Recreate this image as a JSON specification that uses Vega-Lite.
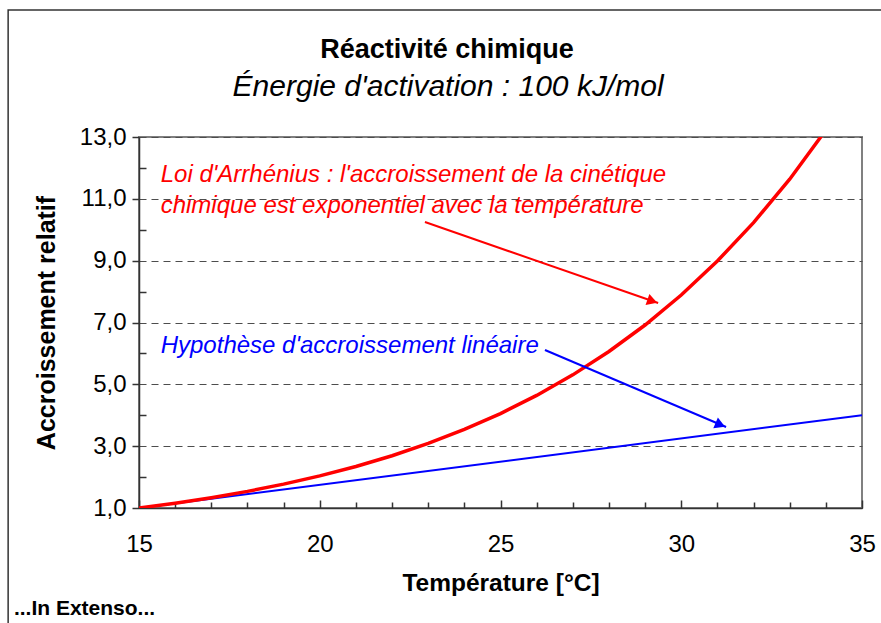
{
  "$schema": "https://vega.github.io/schema/vega-lite/v6.json",
  "width": 723,
  "height": 371,
  "autosize": {"type": "none"},
  "padding": {"left": 139, "top": 137, "right": 19, "bottom": 115},
  "background": "white",
  "config": {
    "view": {"stroke": "#808080", "strokeWidth": 2},
    "axis": {
      "labelFont": "Liberation Sans",
      "titleFont": "Liberation Sans",
      "labelColor": "black",
      "titleColor": "black",
      "domainColor": "#333333",
      "tickColor": "#333333",
      "domainWidth": 1.5,
      "tickWidth": 1.5
    }
  },
  "datasets": {
    "arrhenius": [
      {"t": 15, "v": 1.0},
      {"t": 16, "v": 1.155},
      {"t": 17, "v": 1.333},
      {"t": 18, "v": 1.537},
      {"t": 19, "v": 1.771},
      {"t": 20, "v": 2.038},
      {"t": 21, "v": 2.343},
      {"t": 22, "v": 2.691},
      {"t": 23, "v": 3.088},
      {"t": 24, "v": 3.54},
      {"t": 25, "v": 4.055},
      {"t": 26, "v": 4.641},
      {"t": 27, "v": 5.306},
      {"t": 28, "v": 6.061},
      {"t": 29, "v": 6.918},
      {"t": 30, "v": 7.889},
      {"t": 31, "v": 8.988},
      {"t": 32, "v": 10.232},
      {"t": 33, "v": 11.636},
      {"t": 34, "v": 13.225}
    ],
    "lineaire": [
      {"t": 15, "v": 1.0},
      {"t": 35, "v": 4.0}
    ],
    "titre": [
      {"label": "Réactivité chimique", "t": 23.52, "v": 15.555}
    ],
    "sousTitre": [
      {"label": "Énergie d'activation : 100 kJ/mol", "t": 23.55, "v": 14.33}
    ],
    "noteRouge": [
      {"label": "Loi d'Arrhénius : l'accroissement de la cinétique", "t": 15.6, "v": 11.55},
      {"label": "chimique est exponentiel avec la température", "t": 15.6, "v": 10.53}
    ],
    "noteBleue": [
      {"label": "Hypothèse d'accroissement linéaire", "t": 15.6, "v": 6.02}
    ],
    "flecheRouge": [
      {"t": 22.91, "v": 10.25, "t2": 29.36, "v2": 7.63}
    ],
    "flecheBleue": [
      {"t": 26.23, "v": 6.11, "t2": 31.24, "v2": 3.62}
    ],
    "pointeRouge": [{"t": 29.2, "v": 7.69}],
    "pointeBleue": [{"t": 31.08, "v": 3.69}],
    "pied": [{"label": "...In Extenso...", "t": 11.54, "v": -2.46}]
  },
  "resolve": {"axis": {"x": "independent", "y": "independent"}},
  "layer": [
    {
      "data": {"values": [{}]},
      "mark": {"type": "rect", "fill": null, "stroke": "#333333", "strokeWidth": 1.5, "clip": false},
      "encoding": {
        "x": {"datum": 11.38, "type": "quantitative", "scale": {"domain": [15, 35], "nice": false, "zero": false}, "axis": null},
        "x2": {"datum": 50},
        "y": {"datum": 17.11, "type": "quantitative", "scale": {"domain": [1, 13], "nice": false, "zero": false}, "axis": null},
        "y2": {"datum": -10}
      }
    },
    {
      "data": {"name": "lineaire"},
      "mark": {"type": "line", "color": "#0000ff", "strokeWidth": 2, "clip": true},
      "encoding": {
        "x": {
          "field": "t", "type": "quantitative",
          "scale": {"domain": [15, 35], "nice": false, "zero": false},
          "axis": {
            "orient": "bottom",
            "values": [16, 17, 18, 19, 21, 22, 23, 24, 26, 27, 28, 29, 31, 32, 33, 34],
            "labels": false, "domain": false, "grid": false,
            "tickSize": -6, "title": null
          }
        },
        "y": {
          "field": "v", "type": "quantitative",
          "scale": {"domain": [1, 13], "nice": false, "zero": false},
          "axis": {
            "orient": "left",
            "values": [2, 4, 6, 8, 10, 12],
            "labels": false, "domain": false, "grid": false,
            "tickSize": -7, "title": null
          }
        }
      }
    },
    {
      "data": {"name": "arrhenius"},
      "mark": {"type": "line", "color": "#ff0000", "strokeWidth": 3.5, "clip": true},
      "encoding": {
        "x": {
          "field": "t", "type": "quantitative",
          "scale": {"domain": [15, 35], "nice": false, "zero": false},
          "axis": {
            "orient": "bottom",
            "values": [15, 20, 25, 30, 35],
            "tickSize": -8,
            "labelPadding": 32,
            "labelFontSize": 24,
            "labelFlush": false,
            "grid": false,
            "title": "Température [°C]",
            "titleFontSize": 24.5,
            "titleFontWeight": "bold",
            "titlePadding": 15
          }
        },
        "y": {
          "field": "v", "type": "quantitative",
          "scale": {"domain": [1, 13], "nice": false, "zero": false},
          "axis": {
            "orient": "left",
            "values": [1, 3, 5, 7, 9, 11, 13],
            "labelExpr": "replace(format(datum.value, '.1f'), '.', ',')",
            "tickSize": 7,
            "labelPadding": 6,
            "labelFontSize": 24,
            "grid": true,
            "gridColor": "#4d4d4d",
            "gridDash": [7, 5],
            "gridWidth": 1.2,
            "title": "Accroissement relatif",
            "titleFontSize": 25,
            "titleFontWeight": "bold",
            "titlePadding": 20
          }
        }
      }
    },
    {
      "data": {"name": "flecheRouge"},
      "mark": {"type": "rule", "color": "#ff0000", "strokeWidth": 2},
      "encoding": {
        "x": {"field": "t", "type": "quantitative", "scale": {"domain": [15, 35], "nice": false, "zero": false}, "axis": null},
        "y": {"field": "v", "type": "quantitative", "scale": {"domain": [1, 13], "nice": false, "zero": false}, "axis": null},
        "x2": {"field": "t2"},
        "y2": {"field": "v2"}
      }
    },
    {
      "data": {"name": "flecheBleue"},
      "mark": {"type": "rule", "color": "#0000ff", "strokeWidth": 2},
      "encoding": {
        "x": {"field": "t", "type": "quantitative", "scale": {"domain": [15, 35], "nice": false, "zero": false}, "axis": null},
        "y": {"field": "v", "type": "quantitative", "scale": {"domain": [1, 13], "nice": false, "zero": false}, "axis": null},
        "x2": {"field": "t2"},
        "y2": {"field": "v2"}
      }
    },
    {
      "data": {"name": "pointeRouge"},
      "mark": {"type": "point", "shape": "triangle-right", "filled": true, "color": "#ff0000", "size": 140, "angle": 19, "opacity": 1},
      "encoding": {
        "x": {"field": "t", "type": "quantitative", "scale": {"domain": [15, 35], "nice": false, "zero": false}, "axis": null},
        "y": {"field": "v", "type": "quantitative", "scale": {"domain": [1, 13], "nice": false, "zero": false}, "axis": null}
      }
    },
    {
      "data": {"name": "pointeBleue"},
      "mark": {"type": "point", "shape": "triangle-right", "filled": true, "color": "#0000ff", "size": 140, "angle": 23, "opacity": 1},
      "encoding": {
        "x": {"field": "t", "type": "quantitative", "scale": {"domain": [15, 35], "nice": false, "zero": false}, "axis": null},
        "y": {"field": "v", "type": "quantitative", "scale": {"domain": [1, 13], "nice": false, "zero": false}, "axis": null}
      }
    },
    {
      "data": {"name": "titre"},
      "mark": {"type": "text", "align": "center", "baseline": "alphabetic", "font": "Liberation Sans", "fontWeight": "bold", "fontSize": 27, "color": "black"},
      "encoding": {
        "x": {"field": "t", "type": "quantitative", "scale": {"domain": [15, 35], "nice": false, "zero": false}, "axis": null},
        "y": {"field": "v", "type": "quantitative", "scale": {"domain": [1, 13], "nice": false, "zero": false}, "axis": null},
        "text": {"field": "label"}
      }
    },
    {
      "data": {"name": "sousTitre"},
      "mark": {"type": "text", "align": "center", "baseline": "alphabetic", "font": "Liberation Sans", "fontStyle": "italic", "fontSize": 30, "color": "black"},
      "encoding": {
        "x": {"field": "t", "type": "quantitative", "scale": {"domain": [15, 35], "nice": false, "zero": false}, "axis": null},
        "y": {"field": "v", "type": "quantitative", "scale": {"domain": [1, 13], "nice": false, "zero": false}, "axis": null},
        "text": {"field": "label"}
      }
    },
    {
      "data": {"name": "noteRouge"},
      "mark": {"type": "text", "align": "left", "baseline": "alphabetic", "font": "Liberation Sans", "fontStyle": "italic", "fontSize": 24, "color": "#ff0000"},
      "encoding": {
        "x": {"field": "t", "type": "quantitative", "scale": {"domain": [15, 35], "nice": false, "zero": false}, "axis": null},
        "y": {"field": "v", "type": "quantitative", "scale": {"domain": [1, 13], "nice": false, "zero": false}, "axis": null},
        "text": {"field": "label"}
      }
    },
    {
      "data": {"name": "noteBleue"},
      "mark": {"type": "text", "align": "left", "baseline": "alphabetic", "font": "Liberation Sans", "fontStyle": "italic", "fontSize": 24, "color": "#0000ff"},
      "encoding": {
        "x": {"field": "t", "type": "quantitative", "scale": {"domain": [15, 35], "nice": false, "zero": false}, "axis": null},
        "y": {"field": "v", "type": "quantitative", "scale": {"domain": [1, 13], "nice": false, "zero": false}, "axis": null},
        "text": {"field": "label"}
      }
    },
    {
      "data": {"name": "pied"},
      "mark": {"type": "text", "align": "left", "baseline": "alphabetic", "font": "Liberation Sans", "fontWeight": "bold", "fontSize": 21, "color": "black"},
      "encoding": {
        "x": {"field": "t", "type": "quantitative", "scale": {"domain": [15, 35], "nice": false, "zero": false}, "axis": null},
        "y": {"field": "v", "type": "quantitative", "scale": {"domain": [1, 13], "nice": false, "zero": false}, "axis": null},
        "text": {"field": "label"}
      }
    }
  ]
}
